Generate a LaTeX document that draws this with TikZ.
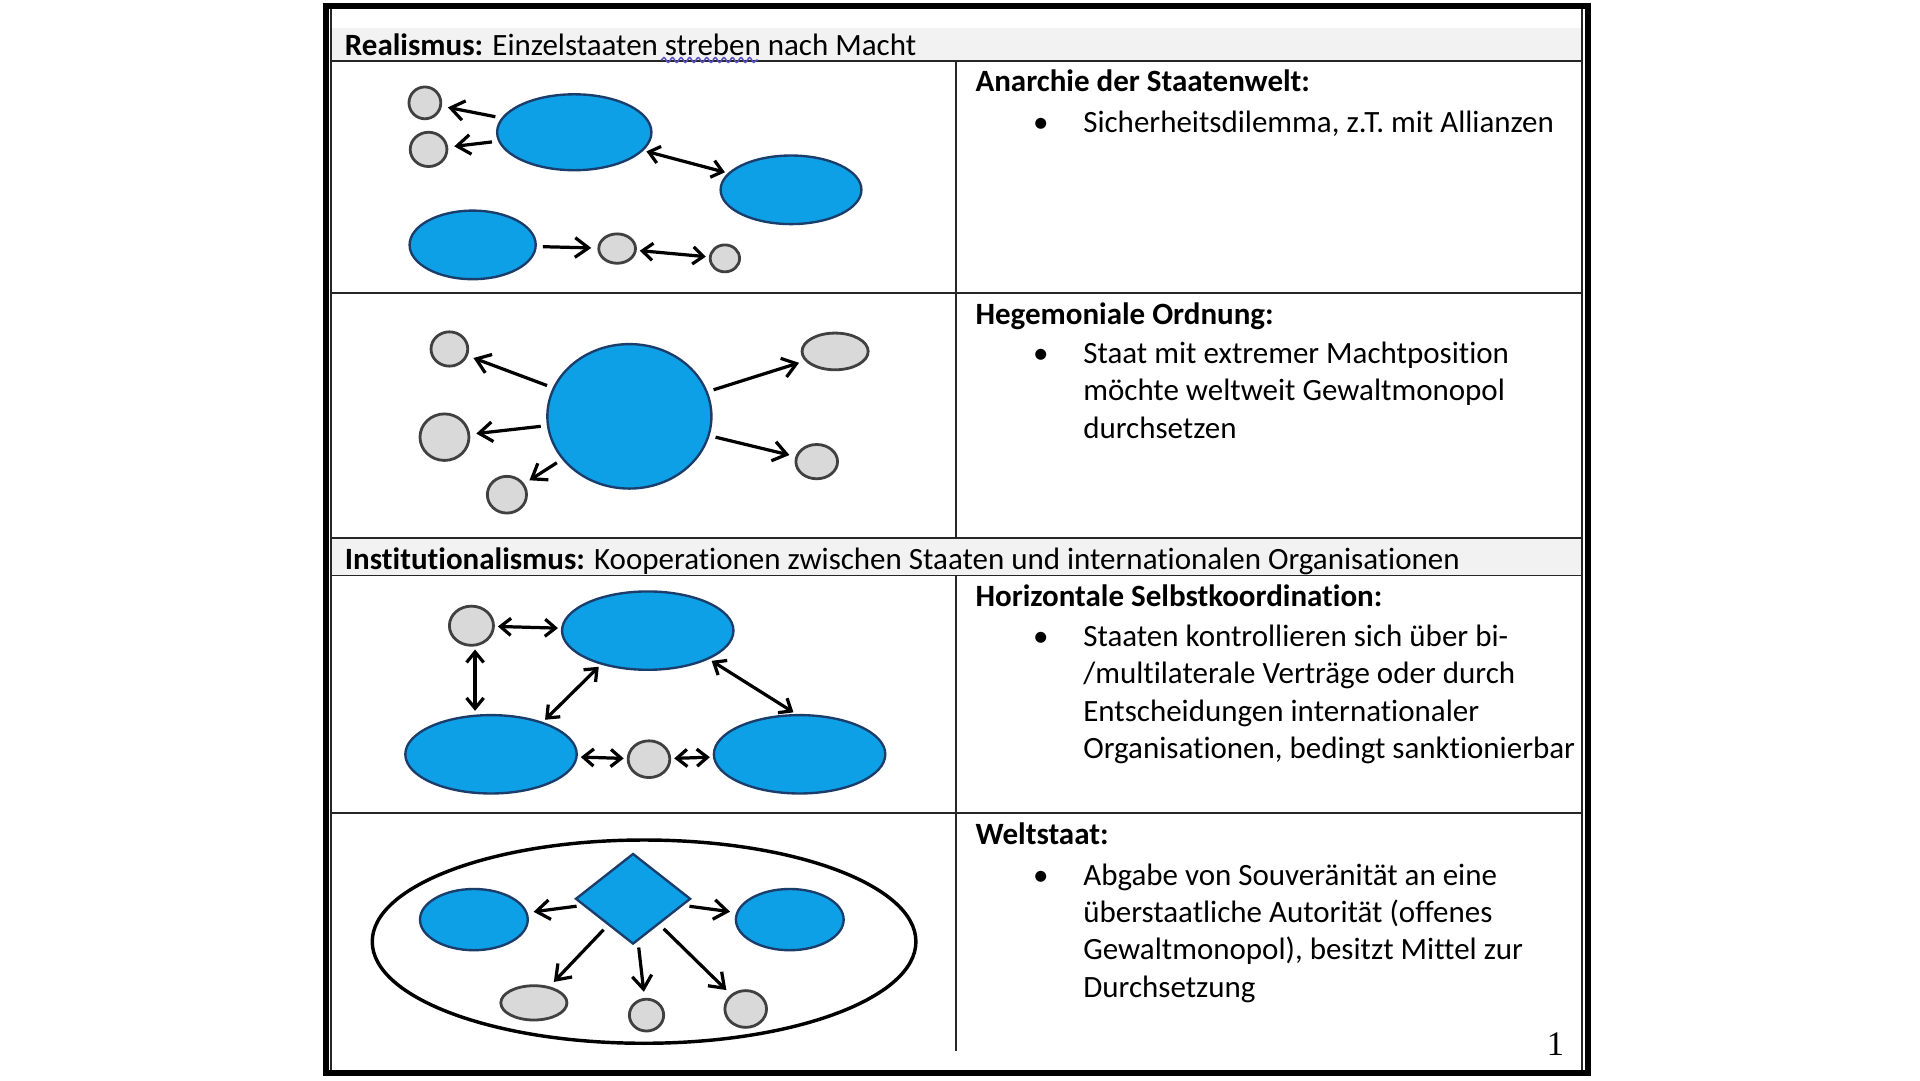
\documentclass[tikz,border=0pt]{standalone}
\usepackage{fontspec}
\setmainfont{Carlito}[Ligatures=NoCommon]
\newfontfamily\pagenumfont{Liberation Serif}
\usetikzlibrary{arrows.meta,shapes.geometric,decorations.pathmorphing}
\definecolor{stateblue}{HTML}{0EA0E6}
\definecolor{stateline}{HTML}{1B3D6B}
\definecolor{minorgrey}{HTML}{D9D9D9}
\definecolor{minorline}{HTML}{404040}
\definecolor{headfill}{HTML}{F2F2F2}
\definecolor{spellblue}{HTML}{5A50C8}
\tikzset{
  sz/.style 2 args={minimum width=#1, minimum height=#2},
  power/.style={ellipse, draw=stateline, fill=stateblue, line width=0.55pt, inner sep=0pt},
  minor/.style={ellipse, draw=minorline, fill=minorgrey, line width=0.65pt, inner sep=0pt},
  hegemon/.style={diamond, draw=stateline, fill=stateblue, line width=0.55pt, inner sep=0pt},
  world/.style={ellipse, draw=black, fill=white, line width=0.8pt, inner sep=0pt},
  rel/.style={-{Straight Barb[length=1.1mm,width=1.6mm]}, line width=0.75pt,
              shorten <=0.5mm, shorten >=0.5mm},
  mutual/.style={{Straight Barb[length=0.85mm,width=1.4mm]}-{Straight Barb[length=0.85mm,width=1.4mm]},
                 line width=0.75pt, shorten <=0.25mm, shorten >=0.25mm},
  rule/.style={line width=0.45pt, draw=black!85},
  pageframe/.style={line width=1.4pt, draw=black},
  headline/.style={anchor=base west, inner sep=0pt, font=\fontsize{7.2}{8.7}\selectfont},
  title/.style={anchor=base west, inner sep=0pt, font=\fontsize{7.2}{8.7}\selectfont\bfseries},
  % multi-line text: the base anchor sits on the last line
  body/.style={anchor=base west, inner sep=0pt, align=left, font=\fontsize{7.2}{8.7}\selectfont},
  listdot/.style={anchor=base west, inner sep=0pt, font=\fontsize{7.2}{8.7}\selectfont},
}

\begin{document}
\begin{tikzpicture}[x=0.1mm, y=-0.1mm]
\useasboundingbox (0,0) rectangle (1568,882);

% table
\fill[headfill] (271,23) rectangle (1292,49.5);
\fill[headfill] (271,439) rectangle (1292,470);
\draw[rule] (271,49.5) -- (1292,49.5);
\draw[rule] (271,239) -- (1292,239);
\draw[rule] (271,439) -- (1292,439);
\draw[rule] (271,470) -- (1292,470);
\draw[rule] (271,664) -- (1292,664);
\draw[rule] (781,49.5) -- (781,439);
\draw[rule] (781,470) -- (781,858);
\draw[rule] (270.5,5) -- (270.5,876);
\draw[rule] (1292,5) -- (1292,876);
\draw[pageframe] (266,5) rectangle (1297,876);

\node[headline] (head1) at (281,45) {\textbf{Realismus:} Einzelstaaten streben nach Macht};
\coordinate (sp1) at (540,49);
\coordinate (sp2) at (619,49);
\draw[spellblue, line width=0.35pt, decorate,
      decoration={snake, amplitude=0.2mm, segment length=0.7mm}] (sp1) -- (sp2);
\node[headline] (head2) at (281,465) {\textbf{Institutionalismus:} Kooperationen zwischen Staaten und internationalen Organisationen};

% row 1: anarchy
\node[minor, sz={2.6mm}{2.6mm}] (a1) at (347,84) {};
\node[minor, sz={3.0mm}{2.8mm}] (a2) at (350,122) {};
\node[power, sz={12.6mm}{6.2mm}] (A) at (469,108) {};
\node[power, sz={11.5mm}{5.6mm}] (B) at (646,155) {};
\node[power, sz={10.3mm}{5.6mm}] (C) at (386,200) {};
\node[minor, sz={3.0mm}{2.4mm}] (a3) at (504,203) {};
\node[minor, sz={2.4mm}{2.2mm}] (a4) at (592,211) {};
\draw[rel] (A) -- (a1);
\draw[rel] (A) -- (a2);
\draw[mutual] (A) -- (B);
\draw[rel] (C) -- (a3);
\draw[mutual] (a3) -- (a4);

% row 2: hegemony
\node[power, sz={13.4mm}{11.8mm}] (H) at (514,340) {};
\node[minor, sz={3.0mm}{2.8mm}] (g1) at (367,285) {};
\node[minor, sz={4.0mm}{3.8mm}] (g2) at (363,357) {};
\node[minor, sz={3.2mm}{3.0mm}] (g3) at (414,404) {};
\node[minor, sz={5.4mm}{3.0mm}] (g4) at (682,287) {};
\node[minor, sz={3.4mm}{2.8mm}] (g5) at (667,377) {};
\foreach \g in {g1,g2,g3,g4,g5}
  \draw[rel] (H) -- (\g);

% row 3: horizontal coordination
\node[minor, sz={3.6mm}{3.2mm}] (h1) at (385,511) {};
\node[power, sz={14mm}{6.4mm}] (F1) at (529,515) {};
\node[power, sz={14mm}{6.4mm}] (F2) at (401,616) {};
\node[power, sz={14mm}{6.4mm}] (F3) at (653,616) {};
\node[minor, sz={3.4mm}{3.0mm}] (h2) at (530,620) {};
\draw[mutual] (h1) -- (F1);
\draw[mutual] (h1.-80) -- (h1.-80 |- F2.north);
\draw[mutual] (F2.32) -- (F1.216);
\draw[mutual] (F1.-25) -- (F3.95);
\draw[mutual] (F2) -- (h2);
\draw[mutual] (h2) -- (F3);

% row 4: world state
\node[world, sz={44.4mm}{16.6mm}] (W) at (526,769) {};
\node[hegemon, sz={9.4mm}{7.4mm}] (D) at (517,734) {};
\node[power, sz={8.8mm}{5.0mm}] (G1) at (387,751) {};
\node[power, sz={8.8mm}{5.0mm}] (G2) at (645,751) {};
\node[minor, sz={5.4mm}{2.8mm}] (k1) at (436,819) {};
\node[minor, sz={2.8mm}{2.6mm}] (k2) at (528,829) {};
\node[minor, sz={3.4mm}{3.0mm}] (k3) at (609,824) {};
\foreach \g in {G1,G2,k1,k2,k3}
  \draw[rel] (D) -- (\g);

% right column
\node[title] (t1) at (796,75) {Anarchie der Staatenwelt:};
\node[listdot] (d1) at (843,108) {•};
\node[body] (b1) at (884,108) {Sicherheitsdilemma, z.T. mit Allianzen};

\node[title] (t2) at (796,265) {Hegemoniale Ordnung:};
\node[listdot] (d2) at (843,297) {•};
\node[body] (b2) at (884,358) {Staat mit extremer Machtposition\\möchte weltweit Gewaltmonopol\\durchsetzen};

\node[title] (t3) at (796,495) {Horizontale Selbstkoordination:};
\node[listdot] (d3) at (843,528) {•};
\node[body] (b3) at (884,619.5) {Staaten kontrollieren sich über bi-\\/multilaterale Verträge oder durch\\Entscheidungen internationaler\\Organisationen, bedingt sanktionierbar};

\node[title] (t4) at (796,690) {Weltstaat:};
\node[listdot] (d4) at (843,723) {•};
\node[body] (b4) at (884,814.5) {Abgabe von Souveränität an eine\\überstaatliche Autorität (offenes\\Gewaltmonopol), besitzt Mittel zur\\Durchsetzung};

\node[anchor=base east, inner sep=0pt, font=\pagenumfont\fontsize{8}{8}\selectfont] (pg) at (1278,862) {1};
\end{tikzpicture}
\end{document}
